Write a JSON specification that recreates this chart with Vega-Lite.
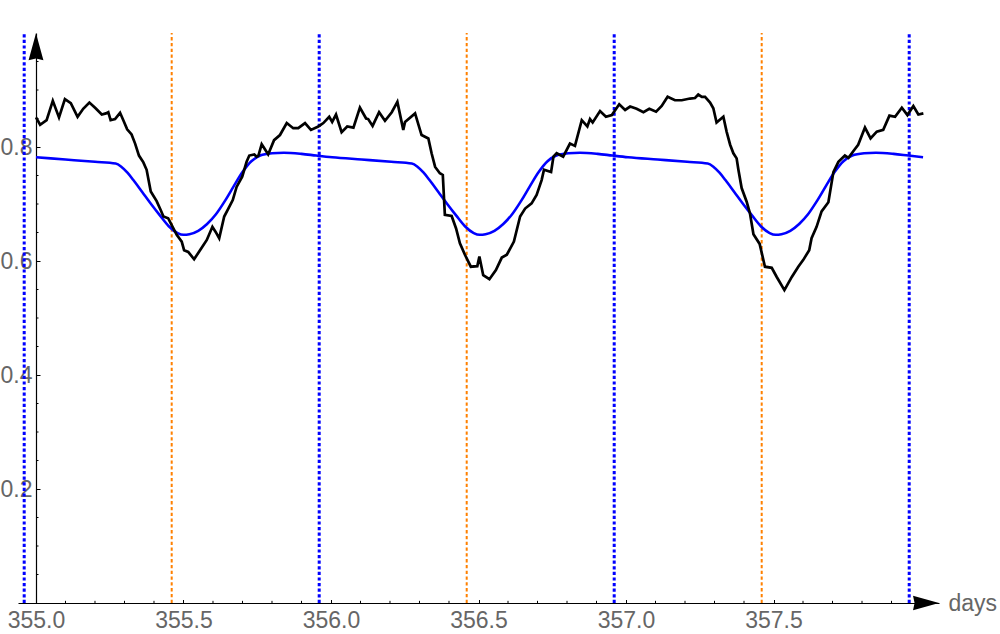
{
  "$schema": "https://vega.github.io/schema/vega-lite/v6.json",
  "width": 921,
  "height": 570,
  "autosize": {"type": "none"},
  "padding": {"left": 18, "top": 33, "right": 61, "bottom": 31},
  "background": "white",
  "config": {"view": {"stroke": null}, "axis": {"grid": false}},
  "datasets": {
    "blueGrid": [{"day": 354.96}, {"day": 355.96}, {"day": 356.96}, {"day": 357.96}],
    "orangeGrid": [{"day": 355.46}, {"day": 356.46}, {"day": 357.46}],
    "xMinor": [{"day": 355.1}, {"day": 355.2}, {"day": 355.3}, {"day": 355.4}, {"day": 355.6}, {"day": 355.7}, {"day": 355.8}, {"day": 355.9},
      {"day": 356.1}, {"day": 356.2}, {"day": 356.3}, {"day": 356.4}, {"day": 356.6}, {"day": 356.7}, {"day": 356.8}, {"day": 356.9},
      {"day": 357.1}, {"day": 357.2}, {"day": 357.3}, {"day": 357.4}, {"day": 357.6}, {"day": 357.7}, {"day": 357.8}, {"day": 357.9}],
    "yMinor": [{"flux": 0.05}, {"flux": 0.1}, {"flux": 0.15}, {"flux": 0.25}, {"flux": 0.3}, {"flux": 0.35}, {"flux": 0.45}, {"flux": 0.5},
      {"flux": 0.55}, {"flux": 0.65}, {"flux": 0.7}, {"flux": 0.75}, {"flux": 0.85}, {"flux": 0.9}, {"flux": 0.95}],
    "model": [
      {"day": 355.00, "flux": 0.782}, {"day": 355.10, "flux": 0.778}, {"day": 355.20, "flux": 0.774}, {"day": 355.27, "flux": 0.771},
      {"day": 355.29, "flux": 0.765}, {"day": 355.31, "flux": 0.755}, {"day": 355.33, "flux": 0.742}, {"day": 355.36, "flux": 0.721},
      {"day": 355.39, "flux": 0.700}, {"day": 355.42, "flux": 0.680}, {"day": 355.45, "flux": 0.661}, {"day": 355.48, "flux": 0.649},
      {"day": 355.50, "flux": 0.646}, {"day": 355.52, "flux": 0.647}, {"day": 355.55, "flux": 0.653}, {"day": 355.58, "flux": 0.665},
      {"day": 355.61, "flux": 0.682}, {"day": 355.64, "flux": 0.705}, {"day": 355.67, "flux": 0.731}, {"day": 355.70, "flux": 0.756},
      {"day": 355.73, "flux": 0.775}, {"day": 355.76, "flux": 0.785}, {"day": 355.80, "flux": 0.789}, {"day": 355.84, "flux": 0.790},
      {"day": 355.90, "flux": 0.788}, {"day": 355.95, "flux": 0.785},
      {"day": 356.004, "flux": 0.782}, {"day": 356.104, "flux": 0.778}, {"day": 356.204, "flux": 0.774}, {"day": 356.274, "flux": 0.771},
      {"day": 356.294, "flux": 0.765}, {"day": 356.314, "flux": 0.755}, {"day": 356.334, "flux": 0.742}, {"day": 356.364, "flux": 0.721},
      {"day": 356.394, "flux": 0.700}, {"day": 356.424, "flux": 0.680}, {"day": 356.454, "flux": 0.661}, {"day": 356.484, "flux": 0.649},
      {"day": 356.504, "flux": 0.646}, {"day": 356.524, "flux": 0.647}, {"day": 356.554, "flux": 0.653}, {"day": 356.584, "flux": 0.665},
      {"day": 356.614, "flux": 0.682}, {"day": 356.644, "flux": 0.705}, {"day": 356.674, "flux": 0.731}, {"day": 356.704, "flux": 0.756},
      {"day": 356.734, "flux": 0.775}, {"day": 356.764, "flux": 0.785}, {"day": 356.804, "flux": 0.789}, {"day": 356.844, "flux": 0.790},
      {"day": 356.904, "flux": 0.788}, {"day": 356.954, "flux": 0.785},
      {"day": 357.007, "flux": 0.782}, {"day": 357.107, "flux": 0.778}, {"day": 357.207, "flux": 0.774}, {"day": 357.277, "flux": 0.771},
      {"day": 357.297, "flux": 0.765}, {"day": 357.317, "flux": 0.755}, {"day": 357.337, "flux": 0.742}, {"day": 357.367, "flux": 0.721},
      {"day": 357.397, "flux": 0.700}, {"day": 357.427, "flux": 0.680}, {"day": 357.457, "flux": 0.661}, {"day": 357.487, "flux": 0.649},
      {"day": 357.507, "flux": 0.646}, {"day": 357.527, "flux": 0.647}, {"day": 357.557, "flux": 0.653}, {"day": 357.587, "flux": 0.665},
      {"day": 357.617, "flux": 0.682}, {"day": 357.647, "flux": 0.705}, {"day": 357.677, "flux": 0.731}, {"day": 357.707, "flux": 0.756},
      {"day": 357.737, "flux": 0.775}, {"day": 357.767, "flux": 0.785}, {"day": 357.807, "flux": 0.789}, {"day": 357.847, "flux": 0.790},
      {"day": 357.907, "flux": 0.788}, {"day": 357.957, "flux": 0.785}, {"day": 358.007, "flux": 0.782}
    ],
    "observed": [
      {"day": 355.000, "flux": 0.852}, {"day": 355.014, "flux": 0.839}, {"day": 355.036, "flux": 0.847}, {"day": 355.057, "flux": 0.881},
      {"day": 355.078, "flux": 0.852}, {"day": 355.098, "flux": 0.884}, {"day": 355.118, "flux": 0.877}, {"day": 355.141, "flux": 0.853},
      {"day": 355.160, "flux": 0.867}, {"day": 355.181, "flux": 0.878}, {"day": 355.202, "flux": 0.868}, {"day": 355.223, "flux": 0.857},
      {"day": 355.237, "flux": 0.859}, {"day": 355.245, "flux": 0.861}, {"day": 355.253, "flux": 0.847}, {"day": 355.268, "flux": 0.849},
      {"day": 355.285, "flux": 0.860}, {"day": 355.296, "flux": 0.847}, {"day": 355.309, "flux": 0.831}, {"day": 355.324, "flux": 0.822},
      {"day": 355.336, "flux": 0.806}, {"day": 355.349, "flux": 0.785}, {"day": 355.364, "flux": 0.773}, {"day": 355.375, "flux": 0.760},
      {"day": 355.389, "flux": 0.722}, {"day": 355.409, "flux": 0.705}, {"day": 355.423, "flux": 0.689}, {"day": 355.432, "flux": 0.678},
      {"day": 355.448, "flux": 0.675}, {"day": 355.460, "flux": 0.663}, {"day": 355.477, "flux": 0.646}, {"day": 355.494, "flux": 0.634},
      {"day": 355.502, "flux": 0.619}, {"day": 355.516, "flux": 0.616}, {"day": 355.536, "flux": 0.603}, {"day": 355.556, "flux": 0.619},
      {"day": 355.579, "flux": 0.637}, {"day": 355.598, "flux": 0.660}, {"day": 355.609, "flux": 0.651}, {"day": 355.621, "flux": 0.640},
      {"day": 355.638, "flux": 0.678}, {"day": 355.652, "flux": 0.692}, {"day": 355.667, "flux": 0.707}, {"day": 355.680, "flux": 0.730},
      {"day": 355.699, "flux": 0.748}, {"day": 355.714, "flux": 0.774}, {"day": 355.723, "flux": 0.785}, {"day": 355.740, "flux": 0.787},
      {"day": 355.748, "flux": 0.783}, {"day": 355.754, "flux": 0.785}, {"day": 355.765, "flux": 0.805}, {"day": 355.776, "flux": 0.796},
      {"day": 355.787, "flux": 0.787}, {"day": 355.807, "flux": 0.812}, {"day": 355.827, "flux": 0.821}, {"day": 355.850, "flux": 0.842},
      {"day": 355.872, "flux": 0.833}, {"day": 355.889, "flux": 0.833}, {"day": 355.912, "flux": 0.842}, {"day": 355.932, "flux": 0.830},
      {"day": 355.957, "flux": 0.836}, {"day": 355.974, "flux": 0.842}, {"day": 355.994, "flux": 0.853}, {"day": 356.004, "flux": 0.844},
      {"day": 356.017, "flux": 0.857}, {"day": 356.036, "flux": 0.826}, {"day": 356.055, "flux": 0.836}, {"day": 356.076, "flux": 0.834},
      {"day": 356.098, "flux": 0.869}, {"day": 356.119, "flux": 0.850}, {"day": 356.126, "flux": 0.849}, {"day": 356.141, "flux": 0.837},
      {"day": 356.163, "flux": 0.861}, {"day": 356.183, "flux": 0.846}, {"day": 356.206, "flux": 0.861}, {"day": 356.225, "flux": 0.879},
      {"day": 356.245, "flux": 0.830}, {"day": 356.251, "flux": 0.844}, {"day": 356.285, "flux": 0.859}, {"day": 356.307, "flux": 0.821},
      {"day": 356.330, "flux": 0.815}, {"day": 356.341, "flux": 0.789}, {"day": 356.353, "flux": 0.765}, {"day": 356.369, "flux": 0.754},
      {"day": 356.379, "flux": 0.751}, {"day": 356.386, "flux": 0.681}, {"day": 356.409, "flux": 0.679}, {"day": 356.424, "flux": 0.657},
      {"day": 356.437, "flux": 0.631}, {"day": 356.454, "flux": 0.611}, {"day": 356.474, "flux": 0.590}, {"day": 356.496, "flux": 0.591},
      {"day": 356.503, "flux": 0.608}, {"day": 356.516, "flux": 0.575}, {"day": 356.537, "flux": 0.568}, {"day": 356.559, "flux": 0.584},
      {"day": 356.579, "flux": 0.606}, {"day": 356.596, "flux": 0.611}, {"day": 356.620, "flux": 0.634}, {"day": 356.641, "flux": 0.678},
      {"day": 356.658, "flux": 0.692}, {"day": 356.680, "flux": 0.701}, {"day": 356.697, "flux": 0.716}, {"day": 356.714, "flux": 0.742},
      {"day": 356.722, "flux": 0.760}, {"day": 356.746, "flux": 0.756}, {"day": 356.754, "flux": 0.783}, {"day": 356.765, "flux": 0.789},
      {"day": 356.787, "flux": 0.783}, {"day": 356.810, "flux": 0.806}, {"day": 356.827, "flux": 0.802}, {"day": 356.850, "flux": 0.847},
      {"day": 356.869, "flux": 0.836}, {"day": 356.878, "flux": 0.849}, {"day": 356.887, "flux": 0.843}, {"day": 356.912, "flux": 0.863},
      {"day": 356.932, "flux": 0.853}, {"day": 356.952, "flux": 0.856}, {"day": 356.977, "flux": 0.875}, {"day": 356.997, "flux": 0.865},
      {"day": 357.014, "flux": 0.871}, {"day": 357.036, "flux": 0.867}, {"day": 357.059, "flux": 0.861}, {"day": 357.079, "flux": 0.867},
      {"day": 357.102, "flux": 0.862}, {"day": 357.121, "flux": 0.872}, {"day": 357.141, "flux": 0.888}, {"day": 357.166, "flux": 0.882},
      {"day": 357.189, "flux": 0.882}, {"day": 357.217, "flux": 0.885}, {"day": 357.234, "flux": 0.886}, {"day": 357.245, "flux": 0.892},
      {"day": 357.257, "flux": 0.888}, {"day": 357.268, "flux": 0.888}, {"day": 357.285, "flux": 0.878}, {"day": 357.296, "flux": 0.868},
      {"day": 357.307, "flux": 0.843}, {"day": 357.330, "flux": 0.853}, {"day": 357.341, "flux": 0.827}, {"day": 357.353, "flux": 0.804},
      {"day": 357.364, "flux": 0.789}, {"day": 357.375, "flux": 0.780}, {"day": 357.381, "flux": 0.760}, {"day": 357.392, "flux": 0.728},
      {"day": 357.409, "flux": 0.704}, {"day": 357.420, "flux": 0.684}, {"day": 357.432, "flux": 0.647}, {"day": 357.453, "flux": 0.630},
      {"day": 357.471, "flux": 0.590}, {"day": 357.494, "flux": 0.588}, {"day": 357.511, "flux": 0.572}, {"day": 357.537, "flux": 0.549},
      {"day": 357.562, "flux": 0.572}, {"day": 357.584, "flux": 0.590}, {"day": 357.601, "flux": 0.602}, {"day": 357.621, "flux": 0.619},
      {"day": 357.629, "flux": 0.640}, {"day": 357.646, "flux": 0.660}, {"day": 357.663, "flux": 0.687}, {"day": 357.686, "flux": 0.703},
      {"day": 357.703, "flux": 0.756}, {"day": 357.720, "flux": 0.774}, {"day": 357.742, "flux": 0.785}, {"day": 357.754, "flux": 0.781},
      {"day": 357.771, "flux": 0.793}, {"day": 357.787, "flux": 0.804}, {"day": 357.810, "flux": 0.834}, {"day": 357.829, "flux": 0.815},
      {"day": 357.850, "flux": 0.827}, {"day": 357.872, "flux": 0.830}, {"day": 357.893, "flux": 0.855}, {"day": 357.912, "flux": 0.853},
      {"day": 357.935, "flux": 0.869}, {"day": 357.954, "flux": 0.856}, {"day": 357.974, "flux": 0.872}, {"day": 357.991, "flux": 0.857},
      {"day": 358.008, "flux": 0.859}
    ]
  },
  "layer": [
    {
      "data": {"name": "blueGrid"},
      "mark": {"type": "rule", "color": "#0000FF", "strokeWidth": 3, "strokeDash": [3.2, 2.4], "strokeCap": "butt"},
      "encoding": {
        "x": {
          "field": "day", "type": "quantitative",
          "scale": {"domain": [354.939, 358.061], "nice": false, "zero": false},
          "axis": {
            "orient": "bottom",
            "values": [355.0, 355.5, 356.0, 356.5, 357.0, 357.5],
            "format": ".1f",
            "labelFont": "Liberation Sans", "labelFontSize": 23, "labelColor": "#666666",
            "labelPadding": 10, "labelOverlap": false, "labelFlush": false,
            "tickSize": -3.5,
            "tickColor": "black", "tickWidth": 1,
            "domainColor": "black", "domainWidth": 1.2,
            "title": "days", "titleX": 930, "titleY": 0, "titleAlign": "left", "titleBaseline": "middle",
            "titleFont": "Liberation Sans", "titleFontSize": 23, "titleFontWeight": "normal", "titleColor": "#666666", "titleAngle": 0
          }
        },
        "y": {
          "datum": 0, "type": "quantitative",
          "scale": {"domain": [0, 1], "nice": false, "zero": false},
          "axis": {
            "orient": "left", "offset": -18,
            "values": [0.2, 0.4, 0.6, 0.8],
            "format": ".1f",
            "labelFont": "Liberation Sans", "labelFontSize": 23, "labelColor": "#666666",
            "labelPadding": 8, "labelOverlap": false, "labelFlush": false,
            "tickSize": -4,
            "tickColor": "black", "tickWidth": 1,
            "domainColor": "black", "domainWidth": 1.2,
            "title": null
          }
        },
        "y2": {"datum": 1}
      }
    },
    {
      "data": {"name": "orangeGrid"},
      "mark": {"type": "rule", "color": "#FF8000", "strokeWidth": 2, "strokeDash": [3.3, 2.5], "strokeCap": "butt"},
      "encoding": {
        "x": {"field": "day", "type": "quantitative"},
        "y": {"datum": 0, "type": "quantitative"},
        "y2": {"datum": 1}
      }
    },
    {
      "data": {"name": "xMinor"},
      "mark": {"type": "rule", "color": "#000000", "strokeWidth": 1},
      "encoding": {
        "x": {"field": "day", "type": "quantitative"},
        "y": {"datum": 0, "type": "quantitative"},
        "y2": {"datum": 0.0038}
      }
    },
    {
      "data": {"name": "yMinor"},
      "mark": {"type": "rule", "color": "#000000", "strokeWidth": 1},
      "encoding": {
        "y": {"field": "flux", "type": "quantitative"},
        "x": {"datum": 355, "type": "quantitative"},
        "x2": {"datum": 355.0085}
      }
    },
    {
      "data": {"name": "model"},
      "mark": {"type": "line", "color": "#0000FF", "strokeWidth": 2.6, "interpolate": "monotone"},
      "encoding": {
        "x": {"field": "day", "type": "quantitative"},
        "y": {"field": "flux", "type": "quantitative"}
      }
    },
    {
      "data": {"name": "observed"},
      "mark": {"type": "line", "color": "#000000", "strokeWidth": 2.7, "strokeJoin": "miter"},
      "encoding": {
        "x": {"field": "day", "type": "quantitative"},
        "y": {"field": "flux", "type": "quantitative"}
      }
    },
    {
      "data": {"values": [{}]},
      "mark": {"type": "point", "shape": "M0,-1L0.55,1L0,0.88L-0.55,1Z", "filled": true, "color": "#000000", "opacity": 1, "size": 729, "strokeWidth": 0},
      "encoding": {
        "x": {"datum": 355, "type": "quantitative"},
        "y": {"datum": 0.976, "type": "quantitative"}
      }
    },
    {
      "data": {"values": [{}]},
      "mark": {"type": "point", "shape": "M1,0L-1,-0.55L-0.88,0L-1,0.55Z", "filled": true, "color": "#000000", "opacity": 1, "size": 676, "strokeWidth": 0},
      "encoding": {
        "x": {"datum": 358.017, "type": "quantitative"},
        "y": {"datum": 0, "type": "quantitative"}
      }
    }
  ]
}
